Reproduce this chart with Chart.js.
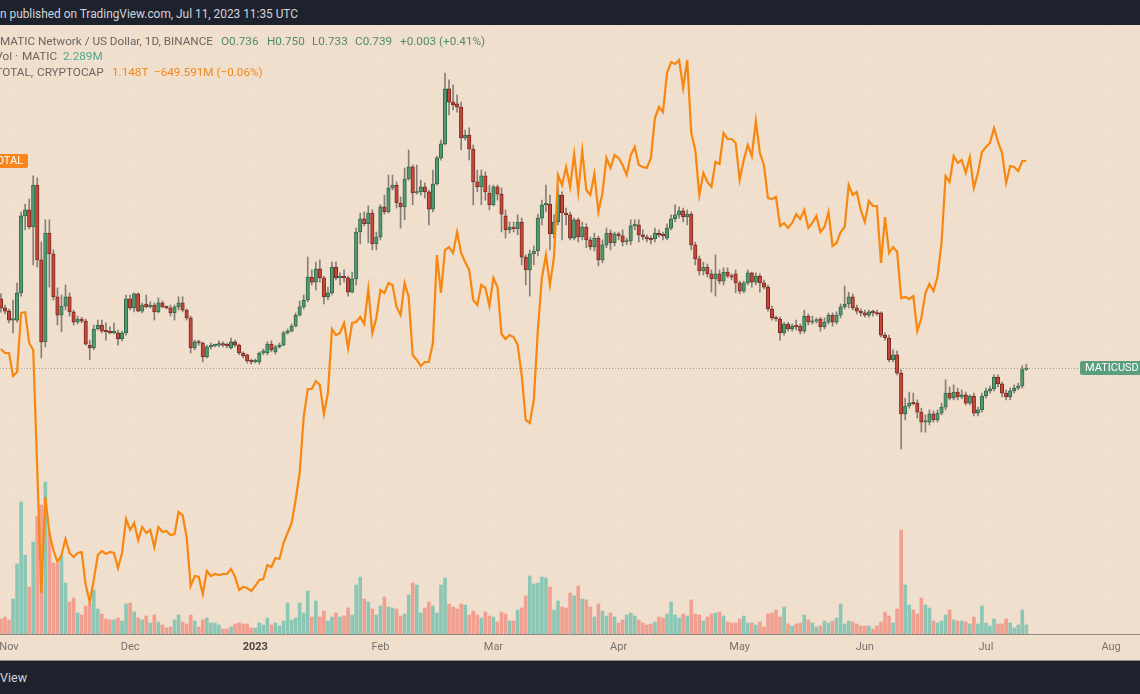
<!DOCTYPE html>
<html><head><meta charset="utf-8">
<script src="https://cdn.jsdelivr.net/npm/chart.js@4.4.0/dist/chart.umd.min.js"></script>
<style>
html,body{margin:0;padding:0;width:1140px;height:694px;overflow:hidden;background:#1e222d;font-family:Roboto,"Noto Sans",sans-serif;}
#top{position:absolute;left:0;top:0;width:1140px;height:25px;background:#1e222d;}
#panel{position:absolute;left:0;top:25px;width:1140px;height:635px;background:#f1dfcd;overflow:hidden;}
#bottom{position:absolute;left:0;top:660px;width:1140px;height:34px;background:#1e222d;border-top:1px solid #8f8c88;box-sizing:border-box;}
canvas{display:block;}
.t{position:absolute;white-space:pre;line-height:1;z-index:5;}
.tag{position:absolute;z-index:6;height:14px;line-height:14px;font-size:11px;color:#fff;white-space:nowrap;box-sizing:border-box;}
</style></head>
<body>
<div id="top"></div>
<div id="panel"><canvas id="c" width="1140" height="635"></canvas></div>
<div id="bottom"></div>
<div class="tag" id="maticTag" style="left:1080px;width:60px;background:#5a9e7f;padding-left:5px;border-radius:2px 0 0 2px;">MATICUSD</div>
<div class="tag" id="totalTag" style="left:-10px;width:38px;background:#f7861c;text-align:right;padding-right:5px;border-radius:0 2px 2px 0;">TOTAL</div>
<script>
// ---- data (daily, first candle 2022-10-30, last 2023-07-11) ----
const startDate = '2022-10-30';
const open = [
.933,.908,.899,.874,.874,.950,1.165,1.182,1.134,1.251,
1.042,.813,1.117,1.059,.939,.888,.913,.939,.897,.868,
.877,.871,.804,.796,.849,.860,.843,.841,.838,.838,
.821,.838,.933,.908,.947,.899,.919,.911,.916,.897,
.922,.911,.908,.894,.911,.922,.902,.880,.796,.813,
.810,.771,.799,.802,.804,.807,.804,.796,.813,.804,
.782,.777,.760,.757,.757,.782,.782,.807,.785,.799,
.804,.838,.843,.857,.888,.911,.930,.994,.980,1.017,
.992,.939,.950,1.022,.992,.994,.992,.952,.989,1.120,
1.157,1.143,1.173,1.087,1.106,1.190,1.176,1.243,1.251,1.201,
1.190,1.268,1.302,1.229,1.232,1.246,1.232,1.184,1.254,1.327,
1.366,1.520,1.483,1.478,1.469,1.383,1.391,1.352,1.260,1.246,
1.277,1.229,1.196,1.246,1.226,1.165,1.126,1.134,1.129,1.148,
1.050,1.014,1.059,1.067,1.159,1.196,1.198,1.115,1.148,1.223,
1.173,1.168,1.103,1.154,1.106,1.134,1.098,1.078,1.103,1.042,
1.084,1.117,1.090,1.115,1.109,1.092,1.095,1.137,1.140,1.112,
1.106,1.101,1.101,1.117,1.112,1.103,1.131,1.157,1.168,1.179,
1.162,1.170,1.084,1.045,1.011,1.022,1.003,.989,1.003,.983,
1.008,.997,1.003,.978,.955,.978,1.006,.980,.997,.978,
.966,.905,.880,.877,.838,.863,.849,.857,.857,.843,
.885,.868,.871,.877,.855,.868,.888,.868,.888,.911,
.919,.939,.908,.899,.894,.888,.897,.894,.894,.832,
.824,.763,.777,.726,.612,.634,.642,.642,.617,.589,
.589,.612,.595,.614,.631,.670,.656,.673,.659,.665,
.642,.662,.614,.623,.662,.676,.682,.715,.696,.670,
.659,.676,.684,.690,.736];
const high = [
.947,.916,.905,.930,.978,1.176,1.198,1.212,1.277,1.271,
1.092,1.154,1.154,1.070,.964,.944,.972,.950,.902,.885,
.882,.877,.818,.860,.874,.874,.866,.855,.866,.846,
.843,.944,.944,.950,.950,.922,.944,.925,.922,.936,
.927,.913,.916,.916,.939,.939,.905,.885,.818,.818,
.813,.804,.810,.807,.816,.813,.810,.824,.818,.807,
.785,.779,.765,.765,.785,.793,.813,.816,.804,.810,
.843,.849,.863,.894,.927,.944,1.050,1.014,1.036,1.042,
.997,.966,1.036,1.036,1.006,1.014,.997,1.008,1.131,1.173,
1.176,1.193,1.182,1.120,1.196,1.223,1.279,1.279,1.260,1.218,
1.299,1.349,1.307,1.307,1.265,1.257,1.237,1.293,1.332,1.377,
1.564,1.545,1.531,1.503,1.483,1.405,1.411,1.363,1.293,1.293,
1.288,1.251,1.251,1.251,1.243,1.182,1.148,1.148,1.168,1.159,
1.056,1.070,1.081,1.170,1.209,1.251,1.223,1.168,1.246,1.232,
1.187,1.176,1.159,1.159,1.148,1.143,1.106,1.117,1.109,1.098,
1.131,1.126,1.120,1.120,1.126,1.103,1.154,1.154,1.154,1.126,
1.112,1.109,1.131,1.126,1.120,1.143,1.168,1.196,1.190,1.187,
1.182,1.176,1.092,1.053,1.036,1.031,1.014,1.056,1.014,1.020,
1.020,1.003,1.014,.983,.983,1.014,1.008,1.006,1.003,.986,
.972,.913,.885,.882,.868,.868,.863,.874,.863,.902,
.891,.885,.880,.882,.880,.894,.894,.897,.919,.969,
.952,.947,.916,.905,.902,.902,.902,.902,.897,.838,
.832,.791,.788,.735,.656,.673,.670,.651,.628,.609,
.623,.620,.623,.642,.707,.687,.693,.684,.679,.673,
.665,.670,.631,.670,.684,.690,.721,.721,.701,.679,
.684,.693,.698,.746,.750];
const low = [
.896,.891,.866,.838,.868,.941,1.126,1.129,1.028,1.022,
.768,.799,.966,.930,.860,.841,.902,.885,.860,.863,
.866,.804,.763,.791,.846,.838,.818,.835,.835,.804,
.816,.832,.902,.897,.897,.894,.908,.908,.874,.894,
.908,.905,.885,.874,.902,.897,.874,.782,.791,.804,
.757,.768,.793,.799,.799,.799,.796,.793,.799,.777,
.768,.754,.751,.754,.751,.777,.777,.785,.779,.796,
.802,.835,.841,.855,.885,.905,.925,.972,.958,.980,
.919,.930,.944,.986,.972,.980,.941,.950,.972,1.087,
1.137,1.090,1.070,1.070,1.098,1.170,1.173,1.237,1.187,1.131,
1.154,1.265,1.196,1.226,1.223,1.215,1.140,1.176,1.251,1.321,
1.363,1.447,1.461,1.455,1.349,1.377,1.321,1.196,1.232,1.196,
1.209,1.182,1.193,1.209,1.120,1.103,1.117,1.120,1.112,1.028,
.972,.941,1.028,1.053,1.140,1.176,1.070,1.103,1.140,1.098,
1.140,1.098,1.098,1.092,1.098,1.076,1.070,1.067,1.025,1.034,
1.076,1.070,1.081,1.098,1.081,1.084,1.084,1.126,1.092,1.098,
1.092,1.087,1.092,1.106,1.098,1.098,1.126,1.148,1.159,1.148,
1.140,1.070,1.028,1.000,1.000,.994,.952,.941,.975,.972,
.992,.986,.950,.947,.950,.972,.966,.972,.952,.961,
.899,.874,.871,.818,.832,.843,.843,.846,.835,.838,
.860,.863,.866,.843,.849,.863,.857,.863,.880,.905,
.908,.902,.891,.885,.882,.882,.885,.888,.827,.818,
.757,.757,.721,.514,.595,.628,.637,.600,.561,.561,
.581,.589,.589,.609,.623,.651,.651,.651,.654,.637,
.637,.606,.606,.617,.656,.670,.676,.687,.659,.651,
.651,.670,.679,.684,.733];
const close = [
.908,.899,.874,.877,.950,1.165,1.182,1.134,1.251,1.042,
.813,1.117,1.059,.939,.888,.913,.939,.897,.868,.877,
.871,.807,.796,.849,.860,.843,.841,.838,.841,.821,
.838,.933,.908,.947,.899,.916,.911,.913,.897,.922,
.911,.908,.894,.911,.922,.902,.880,.796,.813,.810,
.771,.799,.802,.804,.807,.804,.802,.813,.804,.782,
.774,.760,.757,.760,.782,.788,.807,.791,.799,.804,
.838,.843,.857,.888,.911,.930,.994,.980,1.017,.992,
.939,.950,1.022,.992,.994,.992,.952,.989,1.120,1.157,
1.143,1.173,1.087,1.106,1.190,1.176,1.243,1.251,1.201,1.190,
1.268,1.302,1.229,1.232,1.246,1.232,1.184,1.254,1.327,1.366,
1.520,1.483,1.475,1.469,1.383,1.391,1.352,1.260,1.246,1.277,
1.232,1.196,1.246,1.226,1.170,1.126,1.134,1.129,1.148,1.050,
1.014,1.059,1.067,1.159,1.196,1.198,1.115,1.148,1.223,1.173,
1.168,1.103,1.154,1.106,1.134,1.098,1.078,1.103,1.042,1.084,
1.117,1.090,1.115,1.109,1.092,1.095,1.137,1.140,1.112,1.106,
1.101,1.098,1.117,1.112,1.109,1.131,1.157,1.168,1.179,1.162,
1.170,1.084,1.045,1.011,1.022,1.003,.989,1.003,.983,1.008,
.997,.994,.978,.955,.978,1.006,.980,.997,.978,.966,
.905,.880,.877,.838,.863,.849,.857,.855,.843,.885,
.868,.871,.874,.855,.868,.888,.868,.888,.911,.919,
.939,.908,.899,.894,.888,.897,.894,.891,.832,.824,
.763,.777,.726,.612,.634,.642,.640,.617,.589,.592,
.612,.595,.614,.631,.670,.656,.673,.659,.665,.642,
.662,.614,.623,.662,.676,.682,.715,.696,.670,.659,
.676,.684,.690,.736,.739];
// MATIC volume, millions
const volume = [
3.75,4.25,3.5,8.75,17.5,33,19.75,11.75,23,29.5,
32.25,38,25.5,17.75,17.5,19.5,12.75,8,9,5.25,
4.75,7,7.75,11,6.25,5,3.75,3.5,3.5,4,
3.25,7.5,7.75,5.5,4,3.5,4.5,2.75,4.75,3,
2.25,1.5,1.75,3.5,4.75,3,2.5,4.75,3.25,1.75,
3.5,4,2.75,2.75,2.25,1.25,1.25,1.75,2.5,2.75,
2.5,2.5,1.5,1.5,2.75,2.25,4,2.25,2.75,2,
3.25,7.75,3.5,4,7.75,5.25,10.75,4.25,8.25,4.25,
5.75,3.25,4.25,5.25,4.25,4.5,6.5,4.75,12.25,14.25,
8.75,8,6.25,4.75,7,9.25,6.75,6.5,6.25,4.5,
5,9.75,12.75,12.25,5.25,6.5,8,7,5.25,12.25,
14,7.5,6.75,6.25,7.5,7.25,4.75,5.75,4.75,4,
5.5,4.5,4.25,3,5.5,5,3.25,3.25,6,6.5,
9.5,14.5,12.5,12.75,14.25,14,11.75,6,8.25,6.75,
6.5,10.25,9.5,12,8.75,8.5,6.75,4.25,7.5,5.75,
4.5,5.25,4.25,2.75,3.5,4.75,5.25,4.5,3.5,2.75,
2.25,2.5,3,4.25,4,5,8,4.75,4,5,
4.5,8.5,5,4.75,3.25,4.25,5,5.25,5.5,4.5,
3,2.75,2.75,3.75,4.5,2.75,2.75,2.25,3,1.75,
5,5.25,6,4.25,6.75,2.5,2,2.5,2.75,4.75,
3.5,2.75,1.75,2,3.25,2.75,3.25,4,7.5,2.5,
3.25,3,2.5,2,2,2,1.25,2,3,5.5,
4.5,2.75,6.25,26,12.25,7.25,6,5,9,7.25,
6.5,3.25,2.75,3.25,4.75,6,3.5,3.25,3.25,3,
2.5,4.25,2.5,7,2.75,2,3.75,2.5,2.5,3.75,
2.75,1.5,2.25,6,2.289];
// TOTAL crypto market cap, billions USD
const totalCap = [
960,956,956,933,937,996,997,966,959,839,
716,812,776,759,747,754,770,756,752,756,
757,724,707,729,754,758,755,757,756,741,
756,790,779,786,769,782,776,779,762,782,
777,778,774,775,797,794,772,723,733,732,
715,738,733,735,734,735,735,740,732,719,
722,721,718,723,729,730,744,742,751,750,
766,776,786,809,836,892,920,920,928,924,
895,916,980,974,976,986,961,986,987,992,
985,1020,976,991,1019,1016,1026,1024,1002,994,
1026,1012,954,949,943,947,947,966,1054,1016,
1059,1062,1056,1077,1056,1047,1039,1009,1004,1024,
1021,1003,1031,1022,975,970,974,972,964,934,
889,886,909,979,1031,1054,1024,1052,1134,1124,
1142,1122,1155,1117,1158,1119,1114,1135,1097,1116,
1151,1141,1154,1151,1144,1134,1154,1162,1144,1142,
1141,1151,1191,1202,1197,1236,1247,1245,1249,1221,
1249,1176,1159,1114,1136,1127,1122,1147,1145,1176,
1170,1170,1166,1129,1149,1164,1153,1188,1156,1144,
1111,1110,1112,1083,1086,1081,1086,1095,1090,1099,
1081,1086,1093,1077,1082,1097,1063,1066,1077,1082,
1124,1114,1117,1099,1087,1108,1103,1103,1046,1092,
1056,1062,1057,1011,1012,1010,1013,978,991,1016,
1025,1018,1032,1066,1133,1127,1153,1146,1149,1136,
1152,1121,1136,1157,1162,1166,1181,1167,1156,1126,
1143,1142,1138,1148,1148];
const monthDates = ['2022-11-01','2022-12-01','2023-01-01','2023-02-01','2023-03-01','2023-04-01','2023-05-01','2023-06-01','2023-07-01','2023-08-01'];
const monthLabels = ['Nov','Dec','2023','Feb','Mar','Apr','May','Jun','Jul','Aug'];
const priceGrid = [0.1,0.2,0.3,0.4,0.5,0.6,0.7,0.8,0.9,1.0,1.1,1.2,1.3,1.4,1.5,1.6];

// ---- helpers ----
const ORIGIN = Date.UTC(2022,10,1);
function dayOf(s){const [y,m,d]=s.split('-').map(Number);return Math.round((Date.UTC(y,m-1,d)-ORIGIN)/864e5);}
const d0 = dayOf(startDate);
const xs = open.map((_,i)=>d0+i);
const monthX = monthDates.map(dayOf);
const isUp = i => close[i] >= open[i];

const GREEN='#56986f', GREEN_B='#2f6a4c', RED='#c8473a', RED_B='#7a2a20';
const VGREEN='#8cc7b6', VRED='#f0a090';

Chart.defaults.font.family = 'Roboto, "Noto Sans", sans-serif';

const overlay = {
  id:'overlay',
  beforeDatasetsDraw(chart){
    const {ctx, chartArea, scales} = chart;
    const y = Math.round(scales.yp.getPixelForValue(close[close.length-1])) + 0.5;
    ctx.save();
    ctx.strokeStyle = '#a29b92'; ctx.lineWidth = 1; ctx.setLineDash([1,2]);
    ctx.beginPath(); ctx.moveTo(chartArea.left, y); ctx.lineTo(chartArea.right, y); ctx.stroke();
    ctx.restore();
  },
  afterRender(chart){
    const s = chart.scales;
    const yM = s.yp.getPixelForValue(close[close.length-1]);
    const yT = s.yt.getPixelForValue(totalCap[totalCap.length-1]);
    document.getElementById('maticTag').style.top = (25 + yM - 7) + 'px';
    document.getElementById('totalTag').style.top = (25 + yT - 7) + 'px';
  }
};

new Chart(document.getElementById('c'), {
  type:'bar',
  data:{
    datasets:[
      {type:'bar', label:'Vol', yAxisID:'yv', order:5, grouped:false, barThickness:3,
       data: xs.map((x,i)=>({x, y: volume[i]})),
       backgroundColor: xs.map((_,i)=> isUp(i)?VGREEN:VRED), borderWidth:0},
      {type:'bar', label:'wick', yAxisID:'yp', order:4, grouped:false, barThickness:1,
       data: xs.map((x,i)=>({x, y:[low[i], high[i]]})),
       backgroundColor:'#857f78', borderWidth:0},
      {type:'bar', label:'MATICUSD', yAxisID:'yp', order:3, grouped:false, barThickness:3.5, minBarLength:1.5,
       data: xs.map((x,i)=>({x, y:[open[i], close[i]]})),
       backgroundColor: xs.map((_,i)=> isUp(i)?GREEN:RED),
       borderColor: xs.map((_,i)=> isUp(i)?GREEN_B:RED_B),
       borderWidth:1, borderSkipped:false},
      {type:'line', label:'TOTAL', yAxisID:'yt', order:1,
       data: xs.map((x,i)=>({x, y: totalCap[i]})),
       borderColor:'#f7870f', borderWidth:2.2, pointRadius:0, tension:0, fill:false}
    ]
  },
  options:{
    responsive:false, animation:false, devicePixelRatio:1,
    layout:{padding:0},
    plugins:{legend:{display:false}, tooltip:{enabled:false}},
    scales:{
      x:{type:'linear', min:-2.23, max:280.16, offset:false, position:'bottom',
         grid:{color:'#efe4d9', lineWidth:1, drawTicks:false, offset:false},
         border:{display:true, color:'#8f8b86', width:1},
         ticks:{autoSkip:false, maxRotation:0, padding:7,
           color: c => (c.tick && c.tick.value===monthX[2]) ? '#4a4744' : '#77736e',
           font: c => ({size:11, weight:(c.tick && c.tick.value===monthX[2]) ? 'bold' : 'normal'}),
           callback: v => { const k = monthX.indexOf(v); return k>=0 ? monthLabels[k] : ''; }},
         afterBuildTicks: sc => { sc.ticks = monthX.map(v=>({value:v})); },
         afterFit: sc => { sc.height = 26; sc.paddingLeft = 0; sc.paddingRight = 0; }
      },
      yp:{type:'linear', position:'right', min:-0.003, max:1.6983,
          grid:{color:'#efe4d9', lineWidth:1, drawTicks:false},
          border:{display:false}, ticks:{display:false},
          afterBuildTicks: sc => { sc.ticks = priceGrid.map(v=>({value:v})); },
          afterFit: sc => { sc.width = 0; }
      },
      yv:{type:'linear', display:false, min:0, max:152.25},
      yt:{type:'linear', display:false, min:675, max:1284}
    }
  },
  plugins:[overlay]
});

// ---- texts ----
function addText(txt, x, yc, color, size, anchor, weight){
  const s = document.createElement('span');
  s.className='t'; s.textContent = txt; s.style.color = color; s.style.fontSize = size+'px';
  if (weight) s.style.fontWeight = weight;
  document.body.appendChild(s);
  const r = s.getBoundingClientRect();
  s.style.top = (yc - r.height/2) + 'px';
  s.style.left = (anchor==='right' ? x - r.width : x) + 'px';
  return s;
}
function fitSize(txt, base, target){
  const s = document.createElement('span'); s.className='t'; s.style.fontSize=base+'px'; s.textContent=txt;
  document.body.appendChild(s); const w = s.getBoundingClientRect().width; s.remove();
  return base*target/w;
}
const hdr = 'n published on TradingView.com, Jul 11, 2023 11:35 UTC';
addText(hdr, 0, 15, '#d1d4dc', fitSize(hdr,12,298));
const l1 = 'MATIC Network / US Dollar, 1D, BINANCE';
const fs = fitSize(l1, 11, 213);
const G = '#4f8a6c', GRAY = '#6b6661', ORG = '#f5861a';
addText(l1, 0, 41.5, GRAY, fs);
addText('O0.736', 221, 41.5, G, fs);
addText('H0.750', 267, 41.5, G, fs);
addText('L0.733', 312, 41.5, G, fs);
addText('C0.739', 355, 41.5, G, fs);
addText('+0.003 (+0.41%)', 400, 41.5, G, fs);
addText('Vol \u00b7', 18, 57, GRAY, fs, 'right');
addText('MATIC', 22, 57, GRAY, fs);
addText('2.289M', 63, 57, '#4fa88d', fs);
addText('TOTAL,', 33, 73, GRAY, fs, 'right');
addText('CRYPTOCAP', 37, 73, GRAY, fs);
addText('1.148T', 112, 73, ORG, fs);
addText('\u2212649.591M (\u22120.06%)', 154, 73, ORG, fs);
addText('View', 0, 678, '#d1d4dc', 12.5);
</script>
</body></html>
